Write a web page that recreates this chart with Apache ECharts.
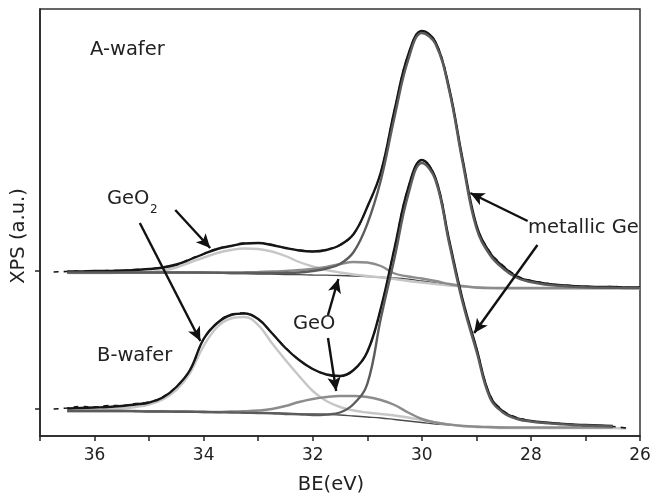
<!DOCTYPE html>
<html>
<head>
<meta charset="utf-8">
<script src="https://cdn.jsdelivr.net/npm/echarts@6/dist/echarts.min.js"></script>
<style>html,body{margin:0;padding:0;background:#fff}#c{width:657px;height:496px}</style>
</head>
<body>
<div id="c"></div>
<script>
// Binding energy grid (eV)
var BE = [36.75,36.5,36.25,36,35.75,35.5,35.25,35,34.75,34.5,34.25,34,33.75,33.5,33.25,33,32.75,32.5,32.25,32,31.75,31.5,31.25,31,30.75,30.5,30.25,30,29.75,29.5,29.25,29,28.75,28.5,28.25,28,27.75,27.5,27.25,27,26.75,26.5,26.25,26];

// A-wafer (arbitrary units, offset spectrum)
var A_raw  = [164,164.5,165,164.5,165.5,165.5,166.5,167,169,171,177,182,187.5,190,193,193,191.5,188,186,184.5,186.5,191,202,229,264,326,381,405,394,348,276,211,184,170,160,155.5,153,151,150.5,149.5,149,149.5,148.5,148.5];
var A_env  = [null,164.5,164.5,165,165,165.5,166,167,168.5,171.5,176.5,182,187,190,192.5,193,191,188,185.5,184.5,186,191,202,229,264,326,381,405,394,348,276,211,183,169,159,155,152.5,151,150,149.5,149,149,148.5,148.5];
var A_Ge   = [null,163.5,163.5,163.5,163.5,163.5,163.5,163.5,163.5,163.5,163.5,163.5,163.3,163,163,163,163,163.2,163.5,165,167.5,172,184,212,256,319,376,403,392,346,273,208,181,167,158,154,151.5,150.2,149.4,148.8,148.4,148.2,148,148];
var A_GeO  = [null,163.5,163.5,163.5,163.5,163.5,163.5,163.5,163.5,163.5,163.5,163.5,163.5,163.5,163.7,164,164.5,165,166,167,169,172,174,173.5,170,162.5,159.5,157.5,155,152,150,148.5,148,148,148,148,148,148,148,148,148,148,148,148];
var A_GeO2 = [null,163,163,163,163,163.2,163.5,164,165.5,168.5,173.5,178.5,183,186,187.5,187,184.5,180,174,169.5,166,163.5,161.5,160,158.5,157,155,153.5,152,150.5,149.5,148.5,148,147.5,147.5,147.5,147.5,147.5,147.5,147.5,147.5,147.5,147.5,147.5];
var A_bg   = [null,163.5,163.5,163.5,163.5,163.5,163.5,163.5,163.5,163.5,163.3,163,162.8,162.5,162.3,162,161.8,161.5,161.3,161,160.8,160.5,160,159.5,158.8,158,156.8,155,153,151,149.5,148.5,148.2,148,148,148,148,148,148,148,148,148,148,148];

// B-wafer
var B_raw  = [27,28,29.5,29,30.5,30.5,32.5,34,39,49.5,66,97,113.5,121.5,123,117,103,88.5,76,67,61.5,60,66,84,128,188,248,276,258,196,136,88,41,25,18.5,15,13,12.5,11.5,10.5,10.5,9.5,8,null];
var B_env  = [null,27.5,28,28.5,29,30,31.5,33.5,38.5,49,66,97,113,121,122.5,117,103,88,76,67,61.5,60,66,84,128,188,248,276,258,196,136,88,40,24,17.5,15,13.5,12.5,11.5,11,10.5,10,null,null];
var B_Ge   = [null,25,25,25,25,25,24.8,24.5,24.5,24.3,24.2,24,23.8,23.5,23.2,23,22.8,22,21.8,21,21.5,23.5,32,52,118,178,241,273,256,193,133,85,38,23,17,14.5,13,12,11,10.5,10,9.5,null,null];
var B_GeO  = [null,25,25,25,25,25,25,24.5,24.5,24.3,24.2,24,24,24.5,24.8,25.5,27,30,34,37,39,40,40,39,36,31,23.5,17,13.5,11.5,10,9.3,9,8.5,8.5,8.5,8.5,8.5,8.5,8.5,8.5,8.5,null,null];
var B_GeO2 = [null,25.5,25.5,26,26.5,27.5,29,31.5,36.5,46,63,90,109,117.5,119,111,93,76,60,45,35,29,25.5,23.5,22,20.5,18.5,16,13.5,11.5,10,9,8.5,8,8,8,8,8,8,8,8,8,7.5,null];
var B_bg   = [null,25,25,25,25,25,25,25,25,24.8,24.7,24.5,24.2,24,23.8,23.5,23.2,22.8,22.4,22,21.5,21,20,19,18,16.5,15,13.5,12,11,10,9.5,9,8.5,8,8,8,8,8,8,8,8,null,null];

// axis ticks / labels
var xTickMin = 26, xTickMax = 37, xTickStep = 1;
var xLabelValues = [36,34,32,30,28,26];
var yTickValues = [27,165];

// annotation arrows [fromBE, fromY, toBE, toY]
var arrows = [
  [34.52,226,33.88,188],
  [35.17,213,34.06,95],
  [31.72,121,31.53,157],
  [31.72,98,31.57,45],
  [28.06,215,29.11,243],
  [27.88,191,29.04,103]
];

function pts(arr){
  var out=[];
  for(var i=0;i<BE.length;i++){ if(arr[i]!==null && arr[i]!==undefined) out.push([BE[i],arr[i]]); }
  return out;
}
function line(name,arr,color,width,type,z){
  return {name:name,type:'line',data:pts(arr),smooth:0.4,symbol:'none',silent:true,z:z||2,
    lineStyle:{color:color,width:width,type:type||'solid'},animation:false};
}

var FONT = 'DejaVu Sans';
var chart = echarts.init(document.getElementById('c'),null,{renderer:'canvas'});
var series = [
  line('A bg',A_bg,'#4a4a4a',1.3),
  line('A GeO2',A_GeO2,'#c6c6c6',2.4),
  line('A GeO',A_GeO,'#8c8c8c',2.4),
  line('A raw',A_raw,'#111',1.6,[5,5]),
  line('A fit',A_env,'#161616',2.4),
  line('A Ge',A_Ge,'#5c5c5c',2.4),
  line('B bg',B_bg,'#4a4a4a',1.3),
  line('B GeO2',B_GeO2,'#c6c6c6',2.4),
  line('B GeO',B_GeO,'#8c8c8c',2.4),
  line('B raw',B_raw,'#111',1.6,[5,5]),
  line('B fit',B_env,'#161616',2.4),
  line('B Ge',B_Ge,'#5c5c5c',2.4)
];
series.push({
  type:'line',data:[],silent:true,z:5,
  markLine:{silent:true,animation:false,symbol:['none','arrow'],symbolSize:[10,14],
    label:{show:false},lineStyle:{color:'#111',width:2.4,type:'solid'},
    emphasis:{disabled:true},
    data:arrows.map(function(a){return [{coord:[a[0],a[1]]},{coord:[a[2],a[3]]}];})}
});

chart.setOption({
  backgroundColor:'#fff',
  animation:false,
  grid:{left:40,right:17,top:9,bottom:60,containLabel:false,outerBoundsMode:'none',show:true,borderColor:'#333',borderWidth:1.5,backgroundColor:'transparent'},
  xAxis:{type:'value',min:xTickMin,max:xTickMax,interval:xTickStep,inverse:true,
    axisLine:{show:true,onZero:false,lineStyle:{color:'#222',width:1.5}},
    axisTick:{show:true,inside:false,length:5,lineStyle:{color:'#222',width:1.5}},
    axisLabel:{margin:11,color:'#222',fontFamily:FONT,fontSize:17,
      formatter:function(v){return xLabelValues.indexOf(v)>=0?String(v):'';}},
    splitLine:{show:false},
    name:'BE(eV)',nameLocation:'middle',nameGap:39,
    nameTextStyle:{color:'#222',fontFamily:FONT,fontSize:19.5,padding:[0,18,0,0]}
  },
  yAxis:{type:'value',min:0,max:427,
    axisLine:{show:true,onZero:false,lineStyle:{color:'#222',width:1.5}},
    axisTick:{show:true,inside:false,length:5,customValues:yTickValues,lineStyle:{color:'#222',width:1.5}},
    axisLabel:{show:false},splitLine:{show:false}
  },
  graphic:[
    {type:'text',x:19,y:236,rotation:Math.PI/2,style:{text:'XPS (a.u.)',font:'19.5px "DejaVu Sans"',fill:'#222',align:'center',verticalAlign:'middle'}},
    {type:'text',left:90,top:40,style:{text:'A-wafer',font:'19.5px "DejaVu Sans"',fill:'#222'}},
    {type:'text',left:97,top:346,style:{text:'B-wafer',font:'19.5px "DejaVu Sans"',fill:'#222'}},
    {type:'text',left:107,top:189,style:{text:'GeO',font:'19.5px "DejaVu Sans"',fill:'#222'}},
    {type:'text',left:150,top:204,style:{text:'2',font:'12px "DejaVu Sans"',fill:'#222'}},
    {type:'text',left:293,top:314,style:{text:'GeO',font:'19.5px "DejaVu Sans"',fill:'#222'}},
    {type:'text',left:528,top:218,style:{text:'metallic Ge',font:'19.5px "DejaVu Sans"',fill:'#222'}}
  ],
  series:series
});
</script>
</body>
</html>
